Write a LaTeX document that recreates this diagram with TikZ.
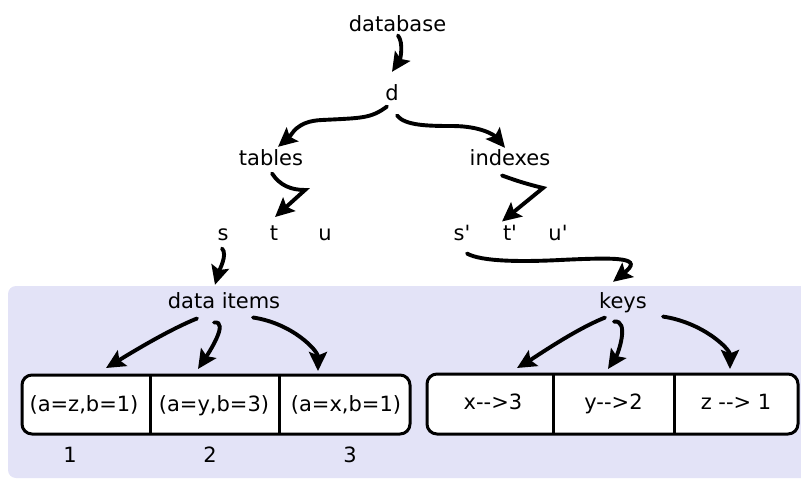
\documentclass[tikz,border=0pt]{standalone}
\usepackage{fontspec}
\setmainfont{DejaVu Sans}[Ligatures=TeXOff]
\usetikzlibrary{arrows.meta}
\definecolor{panel}{RGB}{227,227,247}
\tikzset{
  lbl/.style={anchor=base,inner sep=0pt,font=\fontsize{21}{25}\selectfont},
  link/.style={line width=3.9pt,line cap=round,
    -{Stealth[length=19pt,width=18pt,inset=3.5pt]}},
  cellbox/.style={draw,line width=3pt,rounded corners=10pt,fill=white},
  divider/.style={line width=3pt}
}
\begin{document}
\begin{tikzpicture}[x=1pt,y=-1pt]
\clip (0,0) rectangle (801,479);
\useasboundingbox (0,0) rectangle (801,479);
% shaded storage panel
\fill[panel,rounded corners=8pt] (8,286) rectangle (830,478);

% tree labels
\node[lbl] (db) at (397.5,31) {database};
\node[lbl] (d) at (392,100) {d};
\node[lbl] (tables) at (271,165) {tables};
\node[lbl] (indexes) at (510,165) {indexes};
\node[lbl] (s) at (223,240) {s};
\node[lbl] (t) at (274,240) {t};
\node[lbl] (u) at (325,240) {u};
\node[lbl] (s2) at (462,240) {s'};
\node[lbl] (t2) at (510,240) {t'};
\node[lbl] (u2) at (558,240) {u'};
\node[lbl] (items) at (224,308) {data items};
\node[lbl] (keys) at (623,308) {keys};

% data item table
\draw[cellbox] (22,375) rectangle (410,434);
\draw[divider] (150,375) -- (150,434);
\draw[divider] (279,375) -- (279,434);
\node[lbl] (c1) at (84,411) {(a=z,b=1)};
\node[lbl] (c2) at (214,411) {(a=y,b=3)};
\node[lbl] (c3) at (346,411) {(a=x,b=1)};
\node[lbl] (n1) at (70,462) {1};
\node[lbl] (n2) at (210,462) {2};
\node[lbl] (n3) at (350,462) {3};

% key table
\draw[cellbox] (427,374) rectangle (798,434);
\draw[divider] (553,374) -- (553,434);
\draw[divider] (674,374) -- (674,434);
\node[lbl] (k1) at (493,409) {x-->3};
\node[lbl] (k2) at (613.5,409) {y-->2};
\node[lbl] (k3) at (736,409) {z --> 1};

% arrow ends on the cell tops
\coordinate (c1top) at (106,368);
\coordinate (c2top) at (198,369);
\coordinate (c3top) at (318,371);
\coordinate (k1top) at (517,368);
\coordinate (k2top) at (608,369);
\coordinate (k3top) at (730,369);

% connectors
\draw[link] ([shift={(0.5,4)}]db.south) .. controls +(6,8) and +(8,-12) .. ([shift={(0,-12)}]d.north);
\draw[link] ([shift={(-5,6)}]d.south) .. controls +(-16,12) and +(40,-2) .. (322,120)
  .. controls +(-26,1) and +(14,-12) .. ([shift={(7,-2)}]tables.north);
\draw[link] ([shift={(5,15)}]d.south) .. controls +(8,10) and +(-25,0) .. (452,126)
  .. controls +(30,0) and +(-10,-12) .. ([shift={(-5,-1)}]indexes.north);
\draw[link] ([shift={(1,8)}]tables.south) .. controls +(8,12) and +(-14,0) .. (305,190) -- ([shift={(1,-8)}]t.north);
\draw[link] ([shift={(-8,10)}]indexes.south) .. controls +(14,5) and +(-20,-5) .. (543,188) -- ([shift={(-8,-3)}]t2.north);
\draw[link] ([shift={(-1,8)}]s.south) .. controls +(6,6) and +(4,-14) .. ([shift={(-9,-7)}]items.north);
\draw[link] ([shift={(5,13)}]s2.south) .. controls +(14,8) and +(-40,2) .. (560,260)
  .. controls +(62,-3) and +(30,-24) .. ([shift={(-10,-10)}]keys.north);
\draw[link] ([shift={(-27,10)}]items.south) .. controls +(-30,12) and +(20,-12) .. (c1top);
\draw[link] ([shift={(-10,14)}]items.south) .. controls +(16,-2) and +(10,-15) .. (c2top);
\draw[link] ([shift={(29,9)}]items.south) .. controls +(40,6) and +(0,-20) .. (c3top);
\draw[link] ([shift={(-18,5)}]keys.south) .. controls +(-30,12) and +(20,-12) .. (k1top);
\draw[link] ([shift={(-9,9)}]keys.south) .. controls +(16,-2) and +(10,-15) .. (k2top);
\draw[link] ([shift={(40,4)}]keys.south) .. controls +(40,6) and +(0,-20) .. (k3top);
\end{tikzpicture}
\end{document}
